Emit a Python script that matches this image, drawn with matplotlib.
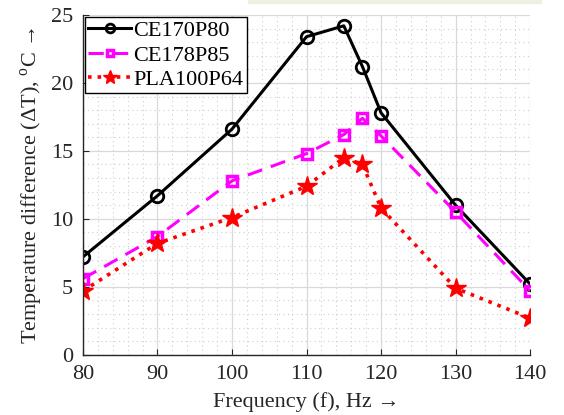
import numpy as np
import matplotlib
matplotlib.use("Agg")
import matplotlib.pyplot as plt
from matplotlib.patches import Rectangle
from matplotlib.ticker import MultipleLocator

plt.rcParams['font.family'] = ['Liberation Serif', 'DejaVu Serif']
plt.rcParams['mathtext.fontset'] = 'custom'
plt.rcParams['mathtext.rm'] = 'Liberation Serif'

# data
freq = [80, 90, 100, 110, 115, 117.5, 120, 130, 140]
ce170p80 = [7.2, 11.7, 16.6, 23.4, 24.2, 21.2, 17.8, 11.0, 5.2]
ce178p85 = [5.6, 8.7, 12.8, 14.8, 16.2, 17.4, 16.1, 10.5, 4.7]
pla100p64 = [4.7, 8.2, 10.1, 12.4, 14.5, 14.0, 10.8, 4.9, 2.7]

xticks = [80, 90, 100, 110, 120, 130, 140]
yticks = [0, 5, 10, 15, 20, 25]

fig = plt.figure(figsize=(5.64, 4.15), dpi=100)
ax = fig.add_axes([0.147, 0.145, 0.793, 0.819])

# faint strip at the top edge of the original image
fig.patches.append(Rectangle((0.44, 0.993), 0.52, 0.007, transform=fig.transFigure,
                             color='#efefe2', zorder=0))

ax.plot(freq, ce170p80, '-', color='black', lw=2.2, marker='o', ms=9,
        mfc='none', mew=2.0, label='CE170P80')
ax.plot(freq, ce178p85, '--', color='#ff00ff', lw=2.2, dashes=(5, 3), marker='s', ms=7,
        mfc='none', mew=2.5, label='CE178P85')
ax.plot(freq, pla100p64, ':', color='red', lw=2.6, marker='*', ms=15,
        mfc='red', mec='red', label='PLA100P64')

ax.set_xlim(80, 140)
ax.set_ylim(0, 25)
ax.set_xticks(xticks)
ax.set_yticks(yticks)
ax.xaxis.set_minor_locator(MultipleLocator(2))
ax.yaxis.set_minor_locator(MultipleLocator(1))
ax.grid(which='major', color='#d9d9d9', lw=0.9, ls='-')
ax.grid(which='minor', color='#cfcfcf', lw=0.8, ls=(0, (1, 3)))
ax.set_axisbelow(True)

for s in ['top', 'right']:
    ax.spines[s].set_visible(False)
for s in ['left', 'bottom']:
    ax.spines[s].set_color('#262626')
    ax.spines[s].set_linewidth(1.0)

ax.tick_params(which='major', direction='in', length=4, labelsize=16,
               colors='#262626', pad=7)
ax.tick_params(which='minor', length=0)

ax.set_xlabel('Frequency (f), Hz →', fontsize=16, color='#262626', labelpad=6)
ax.set_ylabel('Temperature difference (ΔT), $^{\\rm o}$C →', fontsize=16,
              color='#262626', labelpad=4)

leg = ax.legend(loc='upper left', fontsize=16, frameon=True, fancybox=False,
                edgecolor='black', framealpha=1, borderaxespad=0.1,
                handlelength=1.9, handletextpad=0.12, labelspacing=0.18,
                borderpad=0.15, markerscale=0.7)
leg.get_frame().set_linewidth(1.0)

fig.savefig('out.png', dpi=100)
